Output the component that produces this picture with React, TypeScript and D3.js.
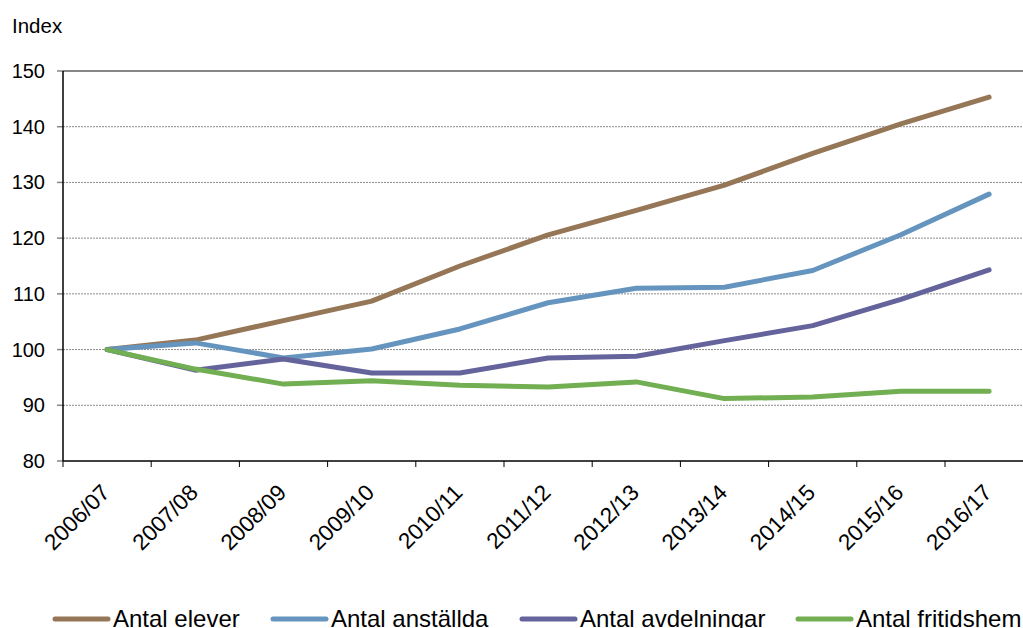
import React from "react";
import * as d3 from "d3";

const categories = ["2006/07","2007/08","2008/09","2009/10","2010/11","2011/12","2012/13","2013/14","2014/15","2015/16","2016/17"];
const elever = [100, 101.7, 105.2, 108.7, 115, 120.6, 125, 129.5, 135.2, 140.5, 145.3];
const anstallda = [100, 101.2, 98.5, 100.1, 103.7, 108.4, 111, 111.2, 114.2, 120.6, 127.9];
const avdelningar = [100, 96.3, 98.3, 95.8, 95.8, 98.5, 98.8, 101.6, 104.3, 109, 114.3];
const fritidshem = [100, 96.5, 93.8, 94.4, 93.6, 93.3, 94.2, 91.2, 91.5, 92.5, 92.5];
const yTicks = [80, 90, 100, 110, 120, 130, 140, 150];

const series = [
  { name: "Antal elever", values: elever, color: "#957656" },
  { name: "Antal anställda", values: anstallda, color: "#6595be" },
  { name: "Antal avdelningar", values: avdelningar, color: "#65639b" },
  { name: "Antal fritidshem", values: fritidshem, color: "#72ae52" },
];
const legendX = [55, 273, 522, 798];

export default function App() {
  const W = 1023, H = 628;
  const left = 63, top = 71, bottom = 461;
  const band = 88.2;
  const x = d3.scaleBand<string>().domain(categories).range([left, left + band * categories.length]).padding(0);
  const y = d3.scaleLinear().domain([80, 150]).range([bottom, top]);
  const cx = (c: string) => (x(c) as number) + x.bandwidth() / 2;
  const line = d3.line<number>().x((_, i) => cx(categories[i])).y((v) => y(v));
  const font = "'Liberation Sans', Arial, sans-serif";
  return (
    <svg width={W} height={H} style={{ position: "absolute", left: 0, top: 0 }} fontFamily={font}>
      <rect width={W} height={H} fill="#fff" />
      <text x={12} y={33} fontSize={20.5} fill="#000">Index</text>
      {yTicks.map((t) => (
        <g key={t}>
          {t > 80 && t < 150 && (
            <line x1={left} x2={W} y1={y(t)} y2={y(t)} stroke="#8a8a8a" strokeWidth={1} strokeDasharray="2,1" />
          )}
          {t === 150 && <line x1={left} x2={W} y1={y(t)} y2={y(t)} stroke="#868686" strokeWidth={2} />}
          <line x1={left - 6} x2={left} y1={y(t)} y2={y(t)} stroke="#868686" strokeWidth={1.5} />
          <text x={left - 18} y={y(t) + 7} textAnchor="end" fontSize={20} fill="#000">{t}</text>
        </g>
      ))}
      <line x1={left} x2={left} y1={top} y2={bottom} stroke="#000" strokeWidth={1.5} />
      <line x1={left} x2={W} y1={bottom} y2={bottom} stroke="#000" strokeWidth={1.5} />
      {categories.map((c, i) => (
        <line key={"t" + c} x1={left + i * band} x2={left + i * band} y1={bottom} y2={bottom + 6} stroke="#000" strokeWidth={1} />
      ))}
      {categories.map((c) => (
        <text key={c} transform={`translate(${cx(c) + 4},${bottom + 33}) rotate(-45)`} textAnchor="end" fontSize={22.5} fill="#000">{c}</text>
      ))}
      {series.map((s) => (
        <path key={s.name} d={line(s.values) || ""} fill="none" stroke={s.color} strokeWidth={5} strokeLinejoin="round" strokeLinecap="round" />
      ))}
      {series.map((s, i) => (
        <g key={"l" + s.name}>
          <line x1={legendX[i]} x2={legendX[i] + 53} y1={619} y2={619} stroke={s.color} strokeWidth={5} strokeLinecap="round" />
          <text x={legendX[i] + 58} y={627} fontSize={24} fill="#000">{s.name}</text>
        </g>
      ))}
    </svg>
  );
}
